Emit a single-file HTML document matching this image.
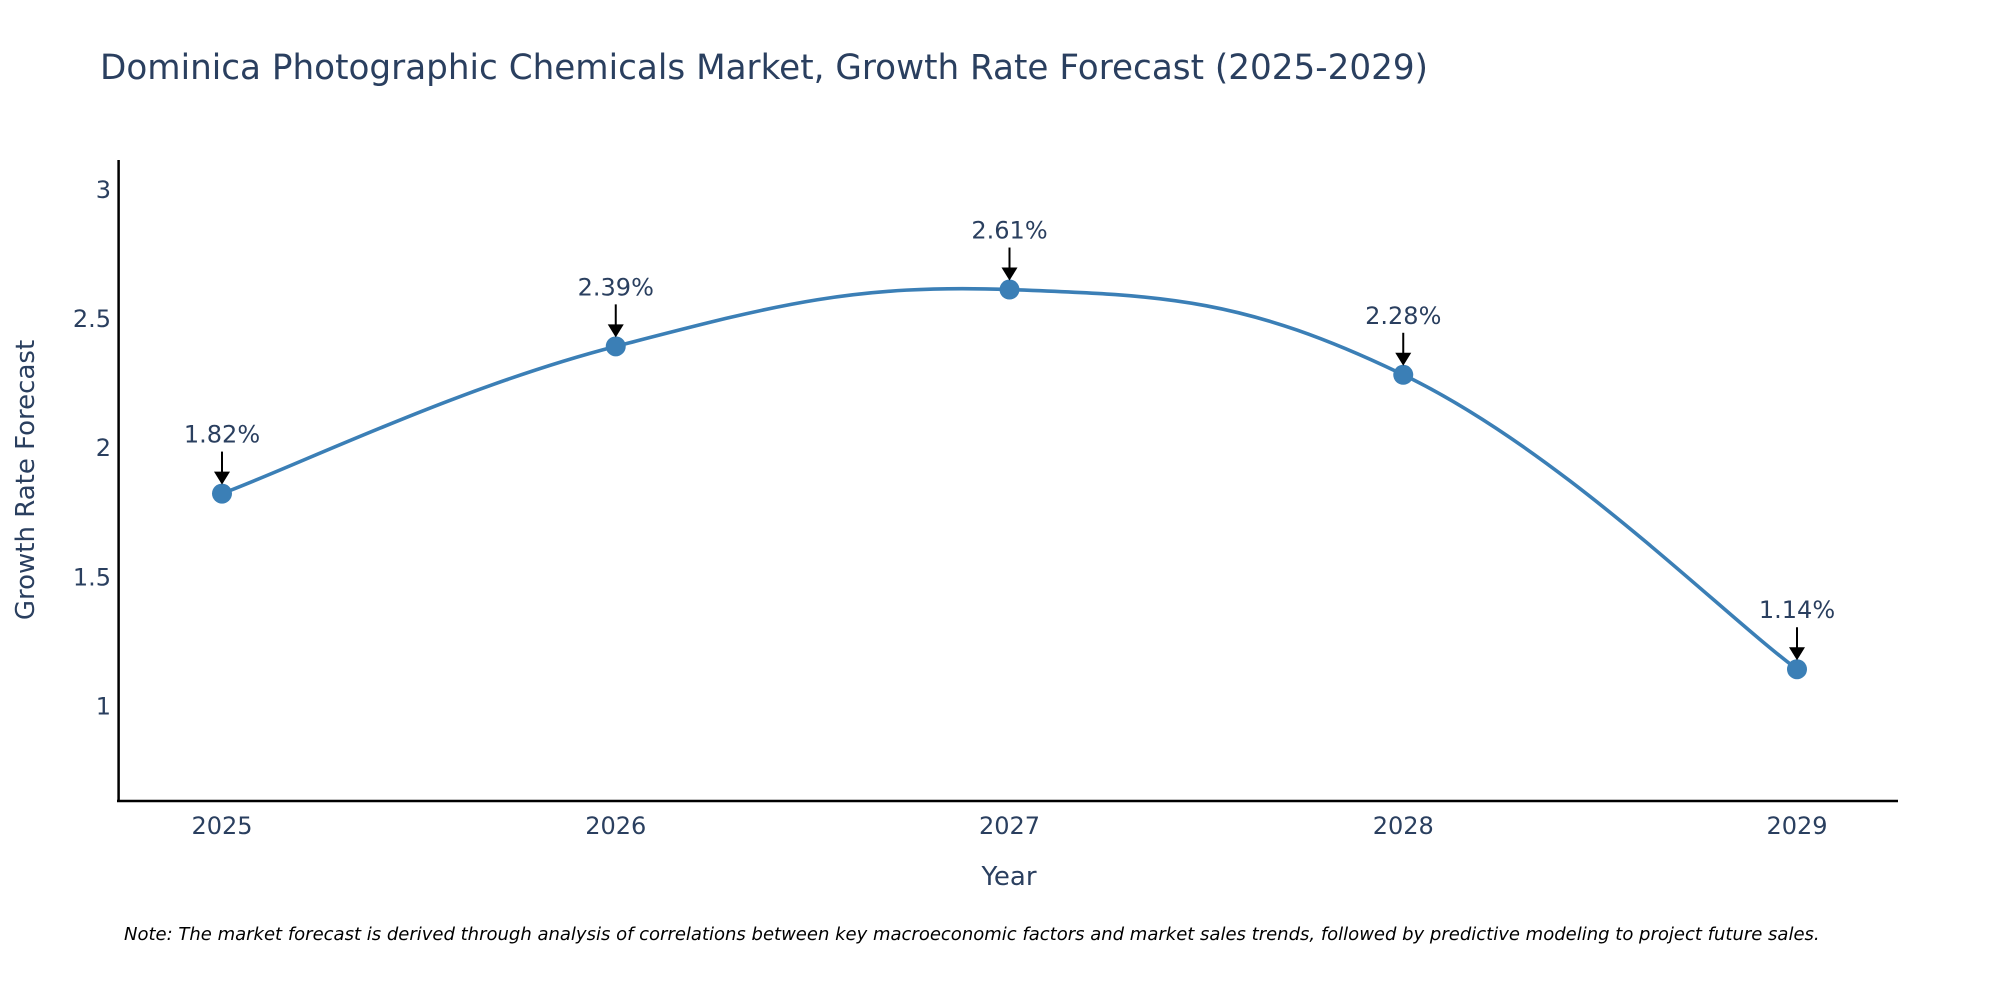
<!DOCTYPE html>
<html><head><meta charset="utf-8"><style>
body{margin:0;background:#fff;}
svg{display:block;font-family:"DejaVu Sans","Liberation Sans",sans-serif;}
</style></head><body>
<svg id="chart" width="2000" height="1000" viewBox="0 0 2000 1000">
<rect width="2000" height="1000" fill="#fff"/>
<text x="100" y="79" font-size="35" fill="#2a3f5f" textLength="1328" lengthAdjust="spacingAndGlyphs">Dominica Photographic Chemicals Market, Growth Rate Forecast (2025-2029)</text>
<g id="yticks"></g>
<g id="xticks"></g>
<line x1="118.6" y1="160" x2="118.6" y2="802" stroke="#000" stroke-width="2.5"/>
<line x1="117" y1="801" x2="1898" y2="801" stroke="#000" stroke-width="2.5"/>
<text transform="translate(34,480) rotate(-90)" text-anchor="middle" font-size="26" fill="#2a3f5f">Growth Rate Forecast</text>
<text x="1009" y="885" text-anchor="middle" font-size="26" fill="#2a3f5f">Year</text>
<g id="series"></g>
<g id="annots"></g>
<text x="124" y="940" font-size="18" font-style="italic" fill="#000">Note: The market forecast is derived through analysis of correlations between key macroeconomic factors and market sales trends, followed by predictive modeling to project future sales.</text>
</svg>
<script>
const years = [2025, 2026, 2027, 2028, 2029];
const growth = [1.82, 2.39, 2.61, 2.28, 1.14];
const labels = ["1.82%", "2.39%", "2.61%", "2.28%", "1.14%"];
const yTicks = [1, 1.5, 2, 2.5, 3];
const yTickLabels = ["1", "1.5", "2", "2.5", "3"];

const NS = "http://www.w3.org/2000/svg";
const xScale = v => 222 + (v - 2025) * 393.75;
const yScale = v => 705.4 - (v - 1) * 258.3;
function mk(tag, attrs, parent){const e=document.createElementNS(NS,tag);for(const k in attrs)e.setAttribute(k,attrs[k]);parent.appendChild(e);return e;}

const yt = document.getElementById('yticks');
yTicks.forEach((v,i)=>{
  const t = mk('text',{x:111,y:yScale(v)+9,'text-anchor':'end','font-size':24,fill:'#2a3f5f'},yt);
  t.textContent = yTickLabels[i];
  
  
});
const xt = document.getElementById('xticks');
years.forEach(y=>{
  const t = mk('text',{x:xScale(y),y:834,'text-anchor':'middle','font-size':24,fill:'#2a3f5f'},xt);
  t.textContent = y;
  
  
});

const pts = years.map((y,i)=>[xScale(y), yScale(growth[i])]);
let d = `M${pts[0][0]},${pts[0][1]}`;
const s = 0.2;
for(let i=0;i<pts.length-1;i++){
  const p0=pts[Math.max(0,i-1)], p1=pts[i], p2=pts[i+1], p3=pts[Math.min(pts.length-1,i+2)];
  const c1=[p1[0]+(p2[0]-p0[0])*s, p1[1]+(p2[1]-p0[1])*s];
  const c2=[p2[0]-(p3[0]-p1[0])*s, p2[1]-(p3[1]-p1[1])*s];
  d += ` C${c1[0]},${c1[1]} ${c2[0]},${c2[1]} ${p2[0]},${p2[1]}`;
}
const ser = document.getElementById('series');
const line = mk('path',{d:d,fill:'none',stroke:'#3b7fb6','stroke-width':3.6},ser);


const ann = document.getElementById('annots');
pts.forEach((p,i)=>{
  const c = mk('circle',{cx:p[0],cy:p[1],r:10,fill:'#3b7fb6'},ser);
  
  
  const l = mk('line',{x1:p[0],y1:p[1]-42,x2:p[0],y2:p[1]-20,stroke:'#000','stroke-width':2},ann);
  
  
  const h = mk('polygon',{points:`${p[0]-8},${p[1]-22} ${p[0]+8},${p[1]-22} ${p[0]},${p[1]-9}`,fill:'#000'},ann);
  
  
  const t = mk('text',{x:p[0],y:p[1]-51,'text-anchor':'middle','font-size':24,fill:'#2a3f5f'},ann);
  t.textContent = labels[i];
  
  
});
</script>
</body></html>
